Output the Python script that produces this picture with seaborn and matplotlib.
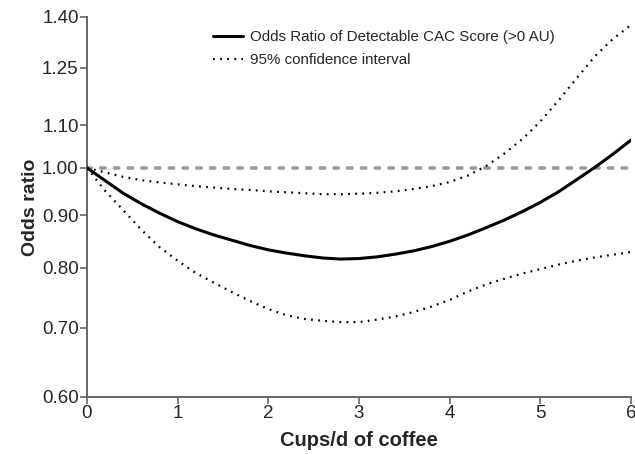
import pandas as pd
import matplotlib
matplotlib.use("Agg")
import matplotlib.pyplot as plt
import seaborn as sns
from matplotlib.ticker import FixedLocator, FixedFormatter, NullLocator

# ---------------- data ----------------
cups = [0.0, 0.2, 0.4, 0.6, 0.8, 1.0, 1.2, 1.4, 1.6, 1.8, 2.0, 2.2, 2.4,
        2.6, 2.8, 3.0, 3.2, 3.4, 3.6, 3.8, 4.0, 4.2, 4.4, 4.6, 4.8, 5.0,
        5.2, 5.4, 5.6, 5.8, 6.0]

odds_ratio = [1.000, 0.972, 0.945, 0.923, 0.904, 0.887, 0.873, 0.861, 0.851,
              0.841, 0.833, 0.827, 0.822, 0.818, 0.816, 0.817, 0.820, 0.825,
              0.831, 0.839, 0.849, 0.861, 0.875, 0.890, 0.907, 0.926, 0.948,
              0.974, 1.001, 1.031, 1.064]

ci_upper = [1.000, 0.990, 0.980, 0.973, 0.968, 0.964, 0.960, 0.957, 0.954,
            0.952, 0.949, 0.947, 0.945, 0.943, 0.943, 0.944, 0.946, 0.949,
            0.954, 0.960, 0.969, 0.983, 1.004, 1.032, 1.066, 1.109, 1.162,
            1.221, 1.282, 1.333, 1.375]

ci_lower = [1.000, 0.950, 0.910, 0.871, 0.838, 0.813, 0.791, 0.774, 0.758,
            0.743, 0.730, 0.720, 0.714, 0.711, 0.709, 0.709, 0.713, 0.718,
            0.725, 0.734, 0.745, 0.759, 0.771, 0.781, 0.790, 0.798, 0.806,
            0.813, 0.819, 0.824, 0.829]

reference = [1.0, 1.0]
reference_x = [0, 6]

y_ticks = [0.60, 0.70, 0.80, 0.90, 1.00, 1.10, 1.25, 1.40]
x_ticks = [0, 1, 2, 3, 4, 5, 6]

df = pd.DataFrame({"cups": cups, "or": odds_ratio,
                   "upper": ci_upper, "lower": ci_lower})

dotted = (0, (0.8, 2.4))

# ---------------- plot ----------------
sns.set_style("ticks")
plt.rcParams["font.family"] = ["Liberation Sans", "DejaVu Sans"]

fig = plt.figure(figsize=(6.35, 4.54), dpi=100)
ax = fig.add_axes([0.137, 0.1256, 0.8567, 0.837])

ax.set_yscale("log")

# reference line at OR = 1
ax.plot(reference_x, reference, color="#9a9a9a", lw=2.6,
        dashes=(1.2, 2.6), dash_capstyle="round", zorder=1)

sns.lineplot(data=df, x="cups", y="or", ax=ax, color="black", lw=2.2,
             label="Odds Ratio of Detectable CAC Score (>0 AU)", zorder=3)
sns.lineplot(data=df, x="cups", y="upper", ax=ax, color="black", lw=1.6,
             label="95% confidence interval", zorder=2)
sns.lineplot(data=df, x="cups", y="lower", ax=ax, color="black", lw=1.6,
             zorder=2)

# dotted style for CI lines
for line in ax.lines[2:]:
    line.set_linestyle(dotted)

ax.set_xlim(0, 6)
ax.set_ylim(0.60, 1.40)
ax.yaxis.set_major_locator(FixedLocator(y_ticks))
ax.yaxis.set_major_formatter(FixedFormatter([f"{v:.2f}" for v in y_ticks]))
ax.yaxis.set_minor_locator(NullLocator())
ax.set_xticks(x_ticks)

ax.tick_params(axis="both", labelsize=13.5, color="#666666",
               length=5, width=1.2, pad=1)
for side in ["left", "bottom"]:
    ax.spines[side].set_color("#666666")
    ax.spines[side].set_linewidth(1.4)
sns.despine(ax=ax)

ax.set_xlabel("Cups/d of coffee", fontsize=14.5, fontweight="bold", labelpad=6)
ax.set_ylabel("Odds ratio", fontsize=14, fontweight="bold", labelpad=2)

leg = ax.legend(loc="upper left", bbox_to_anchor=(0.232, 0.966), frameon=False,
                fontsize=10.9, handlelength=2.0, handletextpad=0.45,
                labelspacing=0.63, borderpad=0, borderaxespad=0)
for h in leg.get_lines()[1:]:
    h.set_linestyle(dotted)

plt.savefig("out.png", dpi=100)
